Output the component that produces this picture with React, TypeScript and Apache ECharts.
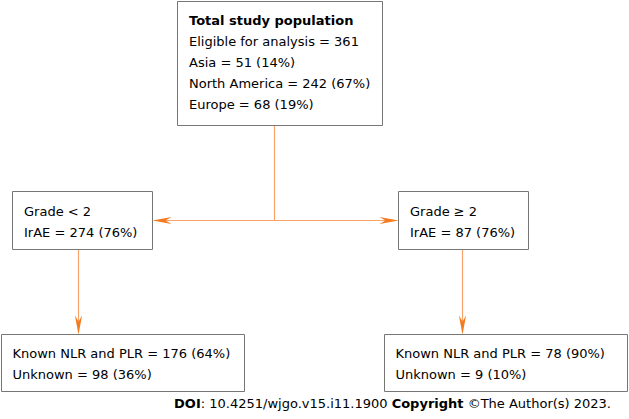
import React, { useEffect, useRef } from "react";
import * as echarts from "echarts";

// ---- data ----
const totalEligible = 361;
const regions = ["Asia", "North America", "Europe"];
const regionCounts = [51, 242, 68];
const regionPcts = [14, 67, 19];
const gradeLabels = ["Grade < 2", "Grade \u2265 2"];
const gradeCounts = [274, 87];
const gradePcts = [76, 76];
const knownCounts = [176, 78];
const knownPcts = [64, 90];
const unknownCounts = [98, 9];
const unknownPcts = [36, 10];

// ---- layout ----
const FAM = "'DejaVu Sans', Tahoma, Verdana, sans-serif";
const FONT = `13px ${FAM}`;
const BOLD = `bold 13px ${FAM}`;
const LINE_H = 21;
const BORDER = "#767676";
const LINE_C = "#F8A36B";
const ARROW_C = "#F47B20";

const topBox = { x: 177.5, y: 1.5, w: 205, h: 124 };
const midBoxes = [
  { x: 12.5, y: 191.5, w: 140, h: 58 },
  { x: 398.5, y: 191.5, w: 130, h: 58 },
];
const botBoxes = [
  { x: 1.5, y: 334.5, w: 243, h: 57 },
  { x: 384.5, y: 334.5, w: 243, h: 57 },
];

function rect(b: any) {
  return {
    type: "rect",
    shape: { x: b.x, y: b.y, width: b.w, height: b.h },
    style: { fill: "#fff", stroke: BORDER, lineWidth: 1 },
  };
}

function text(x: number, y: number, t: string, bold = false) {
  return {
    type: "text",
    x,
    y,
    style: {
      text: t,
      font: bold ? BOLD : FONT,
      fill: "#000",
      textVerticalAlign: "middle",
    },
  };
}

function line(x1: number, y1: number, x2: number, y2: number) {
  return {
    type: "line",
    shape: { x1, y1, x2, y2 },
    style: { stroke: LINE_C, lineWidth: 1.2 },
  };
}

// arrowhead: tip at (x,y), pointing in direction (dx,dy) unit
function arrow(x: number, y: number, dx: number, dy: number) {
  const L = 19, W = 3.6, N = 13;
  const px = -dy, py = dx;
  return {
    type: "polygon",
    shape: {
      points: [
        [x, y],
        [x - dx * L + px * W, y - dy * L + py * W],
        [x - dx * N, y - dy * N],
        [x - dx * L - px * W, y - dy * L - py * W],
      ],
    },
    style: { fill: ARROW_C },
  };
}

export default function App() {
  const ref = useRef<HTMLDivElement>(null);
  useEffect(() => {
    const chart = echarts.init(ref.current!, null, { renderer: "svg" });
    const els: any[] = [];

    // connectors
    const cx = 274.5;
    const hy = 220.5;
    els.push(line(cx, topBox.y + topBox.h, cx, hy));
    els.push(line(midBoxes[0].x + midBoxes[0].w + 2, hy, midBoxes[1].x - 2, hy));
    els.push(arrow(midBoxes[0].x + midBoxes[0].w, hy, -1, 0));
    els.push(arrow(midBoxes[1].x, hy, 1, 0));
    const vx = [78.5, 462.5];
    vx.forEach((x, i) => {
      els.push(line(x, midBoxes[i].y + midBoxes[i].h, x, botBoxes[i].y - 2));
      els.push(arrow(x, botBoxes[i].y, 0, 1));
    });

    // top box
    els.push(rect(topBox));
    const topLines = [
      `Eligible for analysis = ${totalEligible}`,
      ...regions.map((r, i) => `${r} = ${regionCounts[i]} (${regionPcts[i]}%)`),
    ];
    els.push(text(189, 20, "Total study population", true));
    topLines.forEach((t, i) => els.push(text(189, 41 + i * LINE_H, t)));

    // mid boxes
    midBoxes.forEach((b, i) => {
      els.push(rect(b));
      els.push(text(b.x + 11.5, 211, gradeLabels[i]));
      els.push(text(b.x + 11.5, 232, `IrAE = ${gradeCounts[i]} (${gradePcts[i]}%)`));
    });

    // bottom boxes
    botBoxes.forEach((b, i) => {
      els.push(rect(b));
      els.push(text(b.x + 11, 353, `Known NLR and PLR = ${knownCounts[i]} (${knownPcts[i]}%)`));
      els.push(text(b.x + 11, 374, `Unknown = ${unknownCounts[i]} (${unknownPcts[i]}%)`));
    });

    // footer
    els.push({
      type: "text",
      x: 611,
      y: 403,
      style: {
        text: "{b|DOI}: 10.4251/wjgo.v15.i11.1900 {b|Copyright} \u00A9The Author(s) 2023.",
        font: FONT,
        fill: "#000",
        textAlign: "right",
        textVerticalAlign: "middle",
        rich: {
          b: { font: BOLD, fill: "#000" },
        },
      },
    });

    chart.setOption({
      animation: false,
      backgroundColor: "#fff",
      graphic: { elements: els },
    });
    return () => chart.dispose();
  }, []);
  return (
    <div
      ref={ref}
      style={{ position: "fixed", left: 0, top: 0, width: 629, height: 419 }}
    />
  );
}
